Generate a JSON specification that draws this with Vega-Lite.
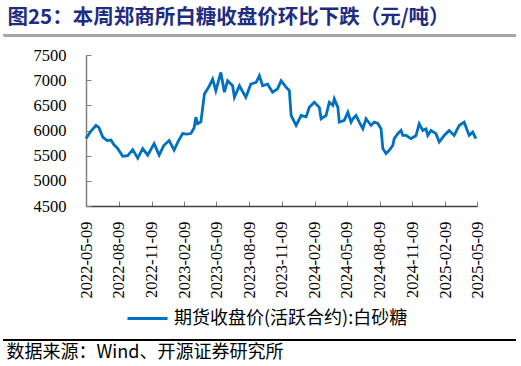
{
  "$schema": "https://vega.github.io/schema/vega-lite/v6.json",
  "background": "white",
  "padding": {"left": 3, "right": 5, "top": 7, "bottom": 4},
  "title": {"text": "图25：本周郑商所白糖收盘价环比下跌（元/吨）", "anchor": "start", "font": "Noto Sans CJK SC", "fontSize": 20.5, "fontWeight": "bold", "color": "#1E2D82", "offset": 6, "dx": 4},
  "width": 391, "height": 151,
  "data": {"values": [
    {"date": "2022-05-09", "price": 5840},
    {"date": "2022-05-23", "price": 5990},
    {"date": "2022-06-06", "price": 6100},
    {"date": "2022-06-14", "price": 6060},
    {"date": "2022-06-25", "price": 5870},
    {"date": "2022-07-07", "price": 5800},
    {"date": "2022-07-18", "price": 5810},
    {"date": "2022-07-26", "price": 5720},
    {"date": "2022-08-06", "price": 5640},
    {"date": "2022-08-20", "price": 5490},
    {"date": "2022-09-03", "price": 5500},
    {"date": "2022-09-17", "price": 5620},
    {"date": "2022-10-01", "price": 5450},
    {"date": "2022-10-15", "price": 5640},
    {"date": "2022-10-29", "price": 5510},
    {"date": "2022-11-16", "price": 5740},
    {"date": "2022-11-30", "price": 5510},
    {"date": "2022-12-13", "price": 5700},
    {"date": "2022-12-28", "price": 5800},
    {"date": "2023-01-11", "price": 5610},
    {"date": "2023-01-22", "price": 5780},
    {"date": "2023-02-04", "price": 5940},
    {"date": "2023-02-16", "price": 5930},
    {"date": "2023-02-27", "price": 5940},
    {"date": "2023-03-08", "price": 6050},
    {"date": "2023-03-13", "price": 6265},
    {"date": "2023-03-18", "price": 6135},
    {"date": "2023-03-27", "price": 6170},
    {"date": "2023-04-06", "price": 6727},
    {"date": "2023-04-20", "price": 6890},
    {"date": "2023-04-29", "price": 7020},
    {"date": "2023-05-08", "price": 6790},
    {"date": "2023-05-22", "price": 7154},
    {"date": "2023-06-01", "price": 6760},
    {"date": "2023-06-10", "price": 6990},
    {"date": "2023-06-24", "price": 6890},
    {"date": "2023-06-29", "price": 6660},
    {"date": "2023-07-13", "price": 6890},
    {"date": "2023-07-20", "price": 6800},
    {"date": "2023-07-31", "price": 6660},
    {"date": "2023-08-14", "price": 6920},
    {"date": "2023-08-29", "price": 6957},
    {"date": "2023-09-07", "price": 7088},
    {"date": "2023-09-16", "price": 6891},
    {"date": "2023-09-30", "price": 6920},
    {"date": "2023-10-14", "price": 6760},
    {"date": "2023-10-28", "price": 6826},
    {"date": "2023-11-07", "price": 6990},
    {"date": "2023-11-21", "price": 6858},
    {"date": "2023-11-30", "price": 6792},
    {"date": "2023-12-05", "price": 6298},
    {"date": "2023-12-19", "price": 6100},
    {"date": "2024-01-02", "price": 6298},
    {"date": "2024-01-16", "price": 6270},
    {"date": "2024-01-25", "price": 6462},
    {"date": "2024-02-08", "price": 6561},
    {"date": "2024-02-22", "price": 6460},
    {"date": "2024-02-27", "price": 6233},
    {"date": "2024-03-12", "price": 6300},
    {"date": "2024-03-21", "price": 6561},
    {"date": "2024-03-31", "price": 6500},
    {"date": "2024-04-04", "price": 6628},
    {"date": "2024-04-14", "price": 6460},
    {"date": "2024-04-18", "price": 6166},
    {"date": "2024-05-02", "price": 6200},
    {"date": "2024-05-12", "price": 6363},
    {"date": "2024-05-21", "price": 6166},
    {"date": "2024-05-26", "price": 6230},
    {"date": "2024-06-04", "price": 6298},
    {"date": "2024-06-13", "price": 6166},
    {"date": "2024-06-23", "price": 6035},
    {"date": "2024-07-02", "price": 6233},
    {"date": "2024-07-16", "price": 6100},
    {"date": "2024-07-25", "price": 6166},
    {"date": "2024-08-04", "price": 6140},
    {"date": "2024-08-13", "price": 6035},
    {"date": "2024-08-18", "price": 5640},
    {"date": "2024-08-27", "price": 5541},
    {"date": "2024-09-05", "price": 5607},
    {"date": "2024-09-15", "price": 5705},
    {"date": "2024-09-19", "price": 5838},
    {"date": "2024-09-29", "price": 5937},
    {"date": "2024-10-08", "price": 6002},
    {"date": "2024-10-13", "price": 5903},
    {"date": "2024-10-22", "price": 5903},
    {"date": "2024-11-05", "price": 5838},
    {"date": "2024-11-19", "price": 5900},
    {"date": "2024-11-28", "price": 6134},
    {"date": "2024-12-08", "price": 6002},
    {"date": "2024-12-17", "price": 6030},
    {"date": "2024-12-22", "price": 5903},
    {"date": "2024-12-31", "price": 6000},
    {"date": "2025-01-14", "price": 5937},
    {"date": "2025-01-23", "price": 5771},
    {"date": "2025-02-06", "price": 5900},
    {"date": "2025-02-20", "price": 6002},
    {"date": "2025-03-06", "price": 5903},
    {"date": "2025-03-20", "price": 6100},
    {"date": "2025-04-03", "price": 6166},
    {"date": "2025-04-17", "price": 5903},
    {"date": "2025-04-27", "price": 5968},
    {"date": "2025-05-06", "price": 5838}
  ]},
  "resolve": {"axis": {"x": "independent", "y": "independent"}},
  "layer": [
    {
      "mark": {"type": "line", "strokeWidth": 2.8},
      "encoding": {
        "x": {
          "field": "date", "type": "temporal",
          "scale": {"type": "utc", "domain": [{"year": 2022, "month": 5, "date": 9, "utc": true}, {"year": 2025, "month": 5, "date": 9, "utc": true}]},
          "axis": {
            "values": [
              {"year": 2022, "month": 5, "date": 9, "utc": true},
              {"year": 2022, "month": 8, "date": 9, "utc": true},
              {"year": 2022, "month": 11, "date": 9, "utc": true},
              {"year": 2023, "month": 2, "date": 9, "utc": true},
              {"year": 2023, "month": 5, "date": 9, "utc": true},
              {"year": 2023, "month": 8, "date": 9, "utc": true},
              {"year": 2023, "month": 11, "date": 9, "utc": true},
              {"year": 2024, "month": 2, "date": 9, "utc": true},
              {"year": 2024, "month": 5, "date": 9, "utc": true},
              {"year": 2024, "month": 8, "date": 9, "utc": true},
              {"year": 2024, "month": 11, "date": 9, "utc": true},
              {"year": 2025, "month": 2, "date": 9, "utc": true},
              {"year": 2025, "month": 5, "date": 9, "utc": true}
            ],
            "format": "%Y-%m-%d",
            "labelAngle": 270,
            "labelFont": "Liberation Serif", "labelFontSize": 16.5, "labelColor": "#000000",
            "labelOverlap": false, "labelFlush": false,
            "tickSize": -5, "tickColor": "#808080",
            "domainColor": "#404040", "domainWidth": 1.3,
            "labelPadding": 20,
            "grid": false,
            "title": "数据来源：Wind、开源证券研究所",
            "titleFont": "Noto Sans CJK SC", "titleFontSize": 18, "titleFontWeight": "normal", "titleColor": "#000000",
            "titleX": -80, "titleY": 137, "titleAlign": "left", "titleBaseline": "top", "titleAngle": 0
          }
        },
        "y": {
          "field": "price", "type": "quantitative",
          "scale": {"domain": [4500, 7500], "nice": false, "zero": false},
          "axis": {
            "values": [4500, 5000, 5500, 6000, 6500, 7000, 7500],
            "format": "d",
            "labelFont": "Liberation Serif", "labelFontSize": 16.5, "labelColor": "#000000",
            "labelOverlap": false,
            "tickSize": -5, "tickColor": "#808080",
            "domainColor": "#808080", "domainWidth": 1.5,
            "labelPadding": 25,
            "grid": false, "title": null,
            "minExtent": 82
          }
        },
        "color": {
          "datum": "期货收盘价(活跃合约):白砂糖", "type": "nominal",
          "scale": {"range": ["#0070C0"]},
          "legend": {
            "orient": "none", "legendX": 40, "legendY": 242, "title": null,
            "symbolType": "stroke", "symbolSize": 1600, "symbolStrokeWidth": 3,
            "labelFont": "Noto Sans CJK SC", "labelFontSize": 18, "labelColor": "#000000",
            "labelOffset": 5, "labelLimit": 400
          }
        }
      }
    },
    {
      "mark": {"type": "rect", "fill": "#A6A6A6", "clip": false},
      "encoding": {
        "x": {"datum": {"year": 2021, "month": 9, "date": 21, "utc": true}, "type": "temporal", "axis": null},
        "x2": {"datum": {"year": 2025, "month": 8, "date": 26, "utc": true}},
        "y": {"datum": 7917, "type": "quantitative", "axis": null},
        "y2": {"datum": 7868}
      }
    },
    {
      "mark": {"type": "rule", "stroke": "#000000", "strokeWidth": 1, "clip": false},
      "encoding": {
        "x": {"datum": {"year": 2021, "month": 9, "date": 21, "utc": true}, "type": "temporal", "axis": null},
        "x2": {"datum": {"year": 2025, "month": 8, "date": 26, "utc": true}},
        "y": {"datum": 1838, "type": "quantitative", "axis": null}
      }
    }
  ],
  "config": {"view": {"stroke": null}, "axis": {"labelOverlap": false}}
}
